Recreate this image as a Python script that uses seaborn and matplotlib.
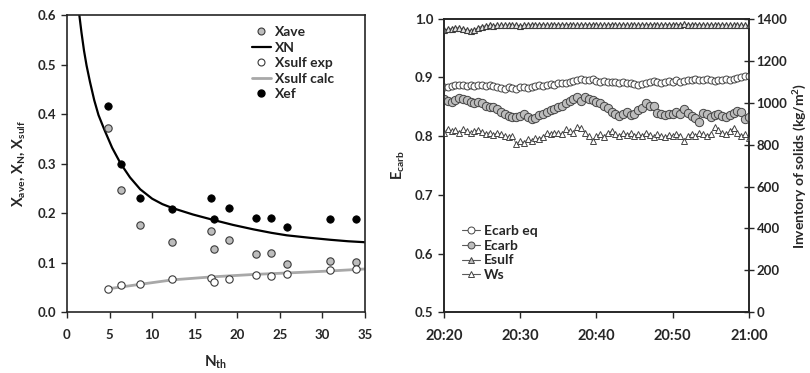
import numpy as np
import pandas as pd
import matplotlib
matplotlib.use("Agg")
import matplotlib.pyplot as plt
import seaborn as sns
from matplotlib.lines import Line2D

# ---------------- data: left panel (conversion vs. number of cycles) ----------------
n_th = [4.85, 6.3, 8.6, 12.35, 16.9, 17.3, 19.0, 22.2, 24.0, 25.8, 30.9, 33.9]
x_ave = [0.371, 0.246, 0.175, 0.142, 0.163, 0.128, 0.146, 0.117, 0.120, 0.097, 0.103, 0.101]
x_sulf_exp = [0.046, 0.054, 0.056, 0.067, 0.068, 0.061, 0.067, 0.074, 0.073, 0.077, 0.085, 0.087]
x_ef = [0.417, 0.300, 0.230, 0.208, 0.230, 0.187, 0.211, 0.190, 0.190, 0.172, 0.187, 0.187]

xn_n = [1.45, 1.7, 2.0, 2.3, 2.7, 3.2, 3.7, 4.4, 5.3, 6.3, 7.4, 8.6, 10.0, 11.2, 12.4,
        14.8, 17.2, 19.5, 21.9, 24.0, 25.8, 28.5, 30.9, 33.0, 35.0]
xn = [0.600, 0.565, 0.528, 0.498, 0.465, 0.428, 0.398, 0.368, 0.332, 0.300, 0.272,
      0.248, 0.229, 0.218, 0.210, 0.197, 0.186, 0.176, 0.167, 0.160, 0.155, 0.150,
      0.146, 0.143, 0.141]

xsulf_calc_n = [4.85, 8.6, 12.4, 17.0, 22.0, 26.0, 31.0, 35.0]
xsulf_calc = [0.047, 0.056, 0.065, 0.071, 0.076, 0.079, 0.083, 0.087]

# ---------------- data: right panel (time series, 30 s sampling) ----------------
time_labels = ["20:20", "20:30", "20:40", "20:50", "21:00"]
minutes = np.arange(0, 40.5, 0.5)

ecarb_eq = [0.883, 0.884, 0.885, 0.887, 0.888, 0.887, 0.886, 0.887, 0.886, 0.887,
            0.887, 0.886, 0.887, 0.885, 0.884, 0.882, 0.881, 0.883, 0.882, 0.881,
            0.883, 0.884, 0.882, 0.883, 0.885, 0.887, 0.886, 0.888, 0.889, 0.888,
            0.890, 0.891, 0.890, 0.893, 0.894, 0.896, 0.897, 0.896, 0.895, 0.897,
            0.894, 0.893, 0.894, 0.893, 0.892, 0.893, 0.891, 0.892, 0.890, 0.891,
            0.889, 0.888, 0.889, 0.890, 0.893, 0.894, 0.893, 0.891, 0.893, 0.894,
            0.893, 0.895, 0.893, 0.894, 0.896, 0.895, 0.897, 0.896, 0.895, 0.897,
            0.896, 0.894, 0.895, 0.896, 0.897, 0.895, 0.898, 0.899, 0.901, 0.902,
            0.903]

ecarb = [0.863, 0.860, 0.858, 0.862, 0.865, 0.864, 0.861, 0.858, 0.857, 0.859,
         0.856, 0.852, 0.849, 0.850, 0.846, 0.842, 0.838, 0.835, 0.833, 0.832,
         0.834, 0.837, 0.833, 0.829, 0.831, 0.836, 0.838, 0.842, 0.845, 0.846,
         0.849, 0.852, 0.856, 0.860, 0.863, 0.866, 0.860, 0.866, 0.864, 0.861,
         0.858, 0.856, 0.852, 0.848, 0.842, 0.838, 0.834, 0.838, 0.841, 0.836,
         0.838, 0.844, 0.848, 0.856, 0.852, 0.851, 0.840, 0.837, 0.836, 0.837,
         0.838, 0.842, 0.838, 0.847, 0.840, 0.834, 0.831, 0.824, 0.840, 0.838,
         0.832, 0.836, 0.838, 0.835, 0.832, 0.836, 0.840, 0.843, 0.842, 0.830,
         0.833]

esulf = [0.805, 0.813, 0.808, 0.811, 0.806, 0.812, 0.808, 0.805, 0.808, 0.811,
         0.807, 0.804, 0.806, 0.802, 0.806, 0.803, 0.800, 0.798, 0.801, 0.786,
         0.792, 0.789, 0.795, 0.792, 0.797, 0.795, 0.799, 0.805, 0.804, 0.806,
         0.805, 0.803, 0.812, 0.808, 0.805, 0.816, 0.814, 0.806, 0.800, 0.792,
         0.800, 0.803, 0.799, 0.806, 0.808, 0.803, 0.800, 0.806, 0.802, 0.805,
         0.801, 0.803, 0.800, 0.806, 0.802, 0.799, 0.803, 0.800, 0.798, 0.802,
         0.800, 0.804, 0.801, 0.792, 0.800, 0.804, 0.801, 0.805, 0.803, 0.800,
         0.804, 0.815, 0.810, 0.805, 0.803, 0.808, 0.814, 0.806, 0.800, 0.803,
         0.797]

ws = [1347, 1350, 1352, 1357, 1355, 1350, 1348, 1343, 1345, 1358,
      1363, 1366, 1368, 1367, 1369, 1368, 1370, 1369, 1368, 1370,
      1366, 1369, 1371, 1370, 1368, 1372, 1371, 1370, 1369, 1371,
      1372, 1370, 1371, 1372, 1370, 1369, 1371, 1370, 1372, 1371,
      1369, 1370, 1368, 1371, 1372, 1370, 1369, 1371, 1370, 1368,
      1370, 1369, 1371, 1370, 1372, 1371, 1370, 1369, 1371, 1372,
      1370, 1371, 1372, 1373, 1371, 1370, 1372, 1371, 1370, 1369,
      1371, 1370, 1369, 1371, 1370, 1368, 1369, 1370, 1368, 1369,
      1368]

# ---------------- style ----------------
sns.set_style("ticks")
plt.rcParams["font.family"] = ["Lato", "DejaVu Sans"]
plt.rcParams["font.weight"] = "bold"
plt.rcParams["axes.labelweight"] = "bold"
plt.rcParams["mathtext.fontset"] = "custom"
plt.rcParams["mathtext.rm"] = "Lato:bold"
plt.rcParams["mathtext.it"] = "Lato:bold"
plt.rcParams["mathtext.bf"] = "Lato:bold"
plt.rcParams["mathtext.default"] = "rm"

DARK = "#262626"
EDGE = "#3a3a3a"
GREY_FILL = "#bdbdbd"
TICK_FS = 9.5
LEG_FS = 10

fig = plt.figure(figsize=(8.1, 3.73), dpi=100)
axl = fig.add_axes([0.0827, 0.1635, 0.368, 0.796])
axr = fig.add_axes([0.548, 0.1627, 0.3765, 0.787])

# ---------------- left panel ----------------
sns.lineplot(x=xn_n, y=xn, ax=axl, color="black", lw=1.6, sort=False, estimator=None)
sns.lineplot(x=xsulf_calc_n, y=xsulf_calc, ax=axl, color="#a8a8a8", lw=2.0,
             sort=False, estimator=None)
sns.scatterplot(x=n_th, y=x_ave, ax=axl, color=GREY_FILL, edgecolor=EDGE,
                linewidth=0.8, s=28, zorder=3)
sns.scatterplot(x=n_th, y=x_sulf_exp, ax=axl, color="white", edgecolor=EDGE,
                linewidth=0.8, s=28, zorder=3)
sns.scatterplot(x=n_th, y=x_ef, ax=axl, color="black", edgecolor="black",
                linewidth=0.6, s=28, zorder=3)

axl.set_xlim(0, 35)
axl.set_ylim(0, 0.6)
axl.set_xticks(range(0, 36, 5))
axl.set_yticks(np.arange(0, 0.61, 0.1))
axl.set_yticklabels([f"{v:.1f}" for v in np.arange(0, 0.61, 0.1)])
axl.set_xlabel(r"N$_{\mathrm{th}}$", fontsize=11, labelpad=9)
axl.set_ylabel(r"X$_{\mathrm{ave}}$, X$_{\mathrm{N}}$, X$_{\mathrm{sulf}}$",
               fontsize=10.5, labelpad=8)

left_handles = [
    Line2D([], [], ls="none", marker="o", ms=5, mfc=GREY_FILL, mec=EDGE, mew=0.8),
    Line2D([], [], color="black", lw=1.6),
    Line2D([], [], ls="none", marker="o", ms=5, mfc="white", mec=EDGE, mew=0.8),
    Line2D([], [], color="#a8a8a8", lw=2.0),
    Line2D([], [], ls="none", marker="o", ms=5, mfc="black", mec="black"),
]
axl.legend(left_handles, ["Xave", "XN", "Xsulf exp", "Xsulf calc", "Xef"],
           loc="upper left", bbox_to_anchor=(0.62, 0.963), frameon=False,
           fontsize=LEG_FS, handlelength=1.35, handletextpad=0.35, labelspacing=0.25,
           borderaxespad=0, borderpad=0)

# ---------------- right panel ----------------
sns.lineplot(x=minutes, y=ecarb_eq, ax=axr, color="#7a7a7a", lw=0.7,
             marker="o", markersize=5, markerfacecolor="white",
             markeredgecolor="#444444", markeredgewidth=0.7,
             sort=False, estimator=None, zorder=3)
sns.lineplot(x=minutes, y=ecarb, ax=axr, color="#7a7a7a", lw=0.7,
             marker="o", markersize=6, markerfacecolor=GREY_FILL,
             markeredgecolor="#444444", markeredgewidth=0.7,
             sort=False, estimator=None, zorder=3)
sns.lineplot(x=minutes, y=esulf, ax=axr, color="#7a7a7a", lw=0.7,
             marker="^", markersize=5, markerfacecolor="white",
             markeredgecolor="#444444", markeredgewidth=0.7,
             sort=False, estimator=None, zorder=3)

axr.set_xlim(0, 40)
axr.set_ylim(0.5, 1.0)
axr.set_xticks([0, 10, 20, 30, 40])
axr.set_xticklabels(time_labels)
axr.set_yticks(np.arange(0.5, 1.01, 0.1))
axr.set_yticklabels([f"{v:.1f}" for v in np.arange(0.5, 1.01, 0.1)])
axr.set_ylabel(r"E$_{\mathrm{carb}}$", fontsize=10.5, labelpad=6)

ax2 = axr.twinx()
sns.lineplot(x=minutes, y=ws, ax=ax2, color="#555555", lw=0.8,
             marker="^", markersize=5, markerfacecolor="#e6e6e6",
             markeredgecolor="#3c3c3c", markeredgewidth=0.8,
             sort=False, estimator=None)
ax2.set_ylim(0, 1400)
ax2.set_yticks(range(0, 1401, 200))
ax2.set_ylabel(r"Inventory of solids (kg/m$^{2}$)", fontsize=10, labelpad=3)

right_handles = [
    Line2D([], [], color="#5a5a5a", lw=0.8, marker="o", ms=5, mfc="white",
           mec="#444444", mew=0.7),
    Line2D([], [], color="#5a5a5a", lw=0.8, marker="o", ms=5, mfc=GREY_FILL,
           mec="#444444", mew=0.7),
    Line2D([], [], color="#5a5a5a", lw=0.8, marker="^", ms=5, mfc=GREY_FILL,
           mec="#444444", mew=0.7),
    Line2D([], [], color="#5a5a5a", lw=0.8, marker="^", ms=4.5, mfc="white",
           mec="#444444", mew=0.7),
]
axr.legend(right_handles, ["Ecarb eq", "Ecarb", "Esulf", "Ws"],
           loc="upper left", bbox_to_anchor=(0.061, 0.298), frameon=False,
           fontsize=LEG_FS, handlelength=1.25, handletextpad=0.3, labelspacing=0.2,
           borderaxespad=0, borderpad=0)

# ---------------- axis cosmetics ----------------
for ax in (axl, axr, ax2):
    for sp in ax.spines.values():
        sp.set_visible(True)
        sp.set_color(DARK)
        sp.set_linewidth(1.2)
    ax.tick_params(labelsize=TICK_FS, colors=DARK, width=1.0, length=4)
    for lab in ax.get_xticklabels() + ax.get_yticklabels():
        lab.set_fontweight("bold")

axl.tick_params(axis="both", direction="out")
axr.tick_params(axis="x", direction="out", labelsize=10.5)
axr.tick_params(axis="y", direction="out")
ax2.tick_params(axis="y", direction="inout", length=7, pad=2)
axl.tick_params(axis="x", pad=8)
axr.tick_params(axis="x", pad=8)

fig.savefig("out.png", dpi=100)
